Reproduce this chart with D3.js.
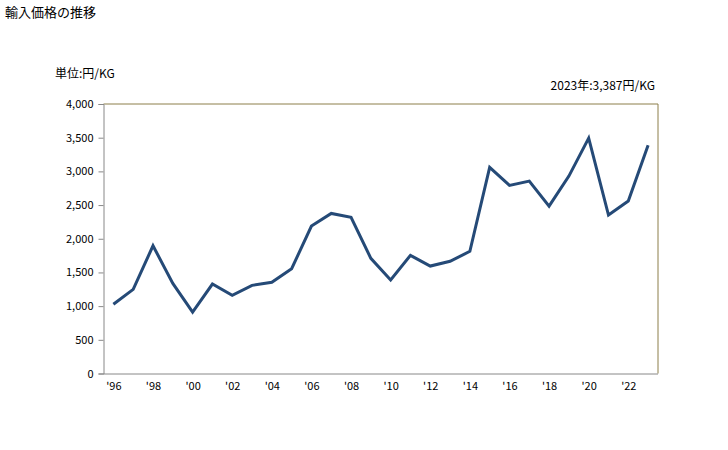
<!DOCTYPE html>
<html><head><meta charset="utf-8">
<script src="https://cdn.jsdelivr.net/npm/d3@7"></script>
<style>body{margin:0;background:#fff;}svg{display:block;}text{font-family:"Noto Sans CJK JP","Noto Sans",sans-serif;}</style>
</head><body>
<script>
const years = [1996,1997,1998,1999,2000,2001,2002,2003,2004,2005,2006,2007,2008,2009,2010,2011,2012,2013,2014,2015,2016,2017,2018,2019,2020,2021,2022,2023];
const prices = [1027,1249,1896,1338,912,1328,1160,1308,1353,1555,2188,2376,2317,1709,1387,1754,1595,1665,1813,3059,2792,2856,2485,2930,3494,2352,2559,3387];
const yTicks = [0,500,1000,1500,2000,2500,3000,3500,4000];
const xTickYears = [1996,1998,2000,2002,2004,2006,2008,2010,2012,2014,2016,2018,2020,2022];
const title = "輸入価格の推移";
const unitLabel = "単位:円/KG";
const note = "2023年:3,387円/KG";

const W=728,H=450;
const L=103.5,R=658,T=104,B=373.5;
const svg=d3.select("body").append("svg").attr("width",W).attr("height",H);
const x=d3.scalePoint().domain(years).range([L,R]).padding(0.5);
const y=d3.scaleLinear().domain([0,4000]).range([B,T]);

svg.append("text").attr("x",5).attr("y",17).attr("font-size",13).attr("fill","#000").text(title);
svg.append("text").attr("x",55).attr("y",78).attr("font-size",12).attr("fill","#000").text(unitLabel);
svg.append("text").attr("x",655).attr("y",90).attr("font-size",12).attr("text-anchor","end").attr("fill","#000").text(note);

// top and right frame
svg.append("path").attr("d",`M${L},${T}H${R}V${B}`).attr("fill","none").attr("stroke","#8c7f4a").attr("stroke-width",1);

// y axis
const ya=svg.append("g").attr("transform",`translate(${L},0)`)
 .call(d3.axisLeft(y).tickValues(yTicks).tickSize(5).tickPadding(5).tickFormat(d3.format(",")));
ya.select(".domain").attr("stroke","#888");
ya.selectAll(".tick line").attr("stroke","#888");
ya.selectAll("text").attr("font-size",11).attr("fill","#000").attr("font-family","'Noto Sans CJK JP','Noto Sans',sans-serif");

// x axis
const xa=svg.append("g").attr("transform",`translate(0,${B})`)
 .call(d3.axisBottom(x).tickValues(xTickYears).tickSize(0).tickPadding(9).tickFormat(d=>"'"+String(d).slice(2)));
xa.select(".domain").attr("d",`M${L},0.5H${R}`).attr("stroke","#888");
xa.selectAll("text").attr("font-size",11).attr("fill","#000").attr("font-family","'Noto Sans CJK JP','Noto Sans',sans-serif");

const line=d3.line().x((d,i)=>x(years[i])).y(d=>y(d));
svg.append("path").datum(prices).attr("d",line).attr("fill","none")
 .attr("stroke","#254a77").attr("stroke-width",3).attr("stroke-linejoin","miter");
</script>
</body></html>
